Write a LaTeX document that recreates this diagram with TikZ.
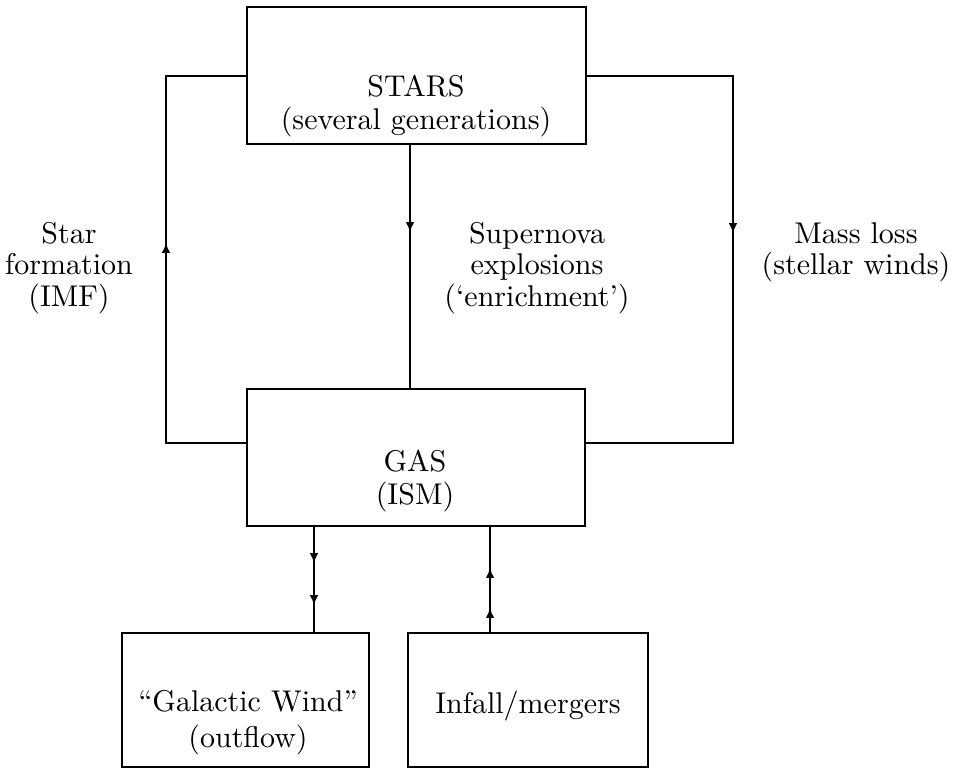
\documentclass[tikz,border=0pt]{standalone}
\usetikzlibrary{arrows.meta}
\begin{document}
\begin{tikzpicture}[x=0.33333pt,y=-0.33333pt,
  box/.style={draw,line width=0.8pt,inner sep=0pt,outer sep=0pt},
  conn/.style={line width=0.6pt},
  arr/.style={conn,-{Latex[length=3.3pt,width=2.9pt]}},
  lbl/.style={inner sep=0pt,align=center,anchor=north,font=\fontsize{10pt}{10.4pt}\selectfont},
  boxlbl/.style={inner sep=0pt,align=center,anchor=north,font=\fontsize{10pt}{11pt}\selectfont},
  lblwide/.style={inner sep=0pt,align=center,anchor=north}]
\useasboundingbox (0,0) rectangle (957,771);
% boxes
\node[box,minimum width=113pt,minimum height=45.67pt] (stars) at (416.5,75.5) {};
\node[box,minimum width=112.67pt,minimum height=45.67pt] (gas) at (416,457.5) {};
\node[box,minimum width=82.33pt,minimum height=44.67pt] (wind) at (245.5,700) {};
\node[box,minimum width=80pt,minimum height=44.67pt] (infall) at (528,700) {};
% box texts
\node[boxlbl] (starsT) at (416,74) {STARS\\(several generations)};
\node[boxlbl] (gasT) at (415,449) {GAS\\(ISM)};
\node[lblwide] (windT) at (248,690) {``Galactic Wind''\\(outflow)};
\node[lblwide] (infallT) at (528,690) {Infall/mergers};
% side labels
\node[lbl] (sfT) at (69,222) {Star\\formation\\(IMF)};
\node[lbl] (snT) at (537,222) {Supernova\\explosions\\(`enrichment')};
\node[lbl] (mlT) at (856,222) {Mass loss\\(stellar winds)};
% coordinates
\coordinate (lt) at (166,76);
\coordinate (lb) at (166,443);
\coordinate (la) at (166,243);
\coordinate (ma) at (410,232);
\coordinate (rt) at (733,76);
\coordinate (rb) at (733,443);
\coordinate (ra) at (733,233);
\coordinate (w1) at (314,563);
\coordinate (w2) at (314,605);
\coordinate (i1) at (490,608);
\coordinate (i2) at (490,568);
% star formation loop
\draw[conn] (gas.west |- lb) -- (lb) -- (lt) -- (stars.west |- lt);
\draw[arr] (lb) -- (la);
% supernova
\draw[conn] (stars.south -| ma) -- (gas.north -| ma);
\draw[arr] (stars.south -| ma) -- (ma);
% mass loss
\draw[conn] (stars.east |- rt) -- (rt) -- (rb) -- (gas.east |- rb);
\draw[arr] (rt) -- (ra);
% galactic wind
\draw[conn] (gas.south -| w1) -- (wind.north -| w1);
\draw[arr] (gas.south -| w1) -- (w1);
\draw[arr] (w1) -- (w2);
% infall
\draw[conn] (infall.north -| i1) -- (gas.south -| i1);
\draw[arr] (infall.north -| i1) -- (i1);
\draw[arr] (i1) -- (i2);
\end{tikzpicture}
\end{document}
